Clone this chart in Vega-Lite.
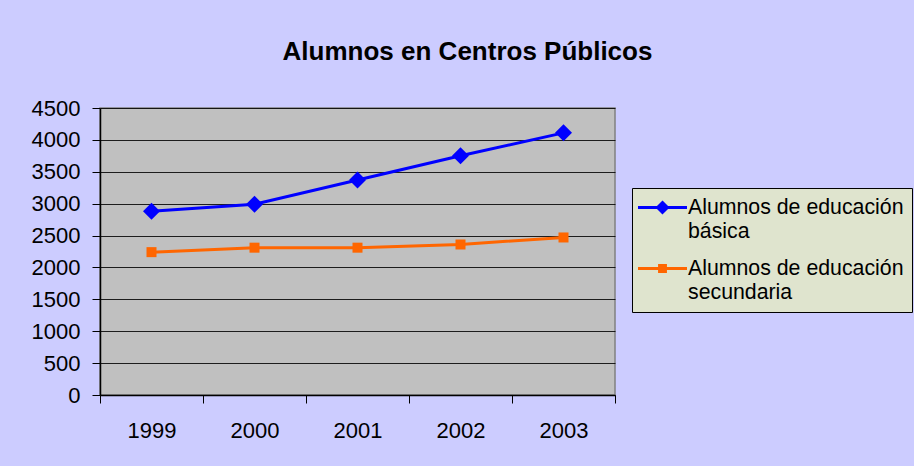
{
  "$schema": "https://vega.github.io/schema/vega-lite/v6.json",
  "autosize": {"type": "none"},
  "padding": {"left": 100, "top": 108, "right": 299, "bottom": 71},
  "width": 515,
  "height": 287,
  "background": "#CCCCFF",
  "title": {
    "text": "Alumnos en Centros Públicos",
    "font": "Liberation Sans",
    "fontSize": 26,
    "fontWeight": "bold",
    "color": "#000000",
    "baseline": "alphabetic",
    "anchor": "middle",
    "offset": 11,
    "dx": 110
  },
  "config": {
    "view": {"fill": "#C0C0C0", "stroke": "#808080", "strokeWidth": 1.5},
    "font": "Liberation Sans"
  },
  "data": {
    "values": [
      {"year": "1999", "serie": "Alumnos de educación básica", "value": 2880},
      {"year": "2000", "serie": "Alumnos de educación básica", "value": 2990},
      {"year": "2001", "serie": "Alumnos de educación básica", "value": 3370},
      {"year": "2002", "serie": "Alumnos de educación básica", "value": 3750},
      {"year": "2003", "serie": "Alumnos de educación básica", "value": 4110},
      {"year": "1999", "serie": "Alumnos de educación secundaria", "value": 2240},
      {"year": "2000", "serie": "Alumnos de educación secundaria", "value": 2310},
      {"year": "2001", "serie": "Alumnos de educación secundaria", "value": 2310},
      {"year": "2002", "serie": "Alumnos de educación secundaria", "value": 2360},
      {"year": "2003", "serie": "Alumnos de educación secundaria", "value": 2470}
    ]
  },
  "encoding": {
    "x": {
      "field": "year",
      "type": "ordinal",
      "scale": {"type": "band", "paddingInner": 0, "paddingOuter": 0},
      "axis": {
        "title": null,
        "labelAngle": 0,
        "labelFont": "Liberation Sans",
        "labelFontSize": 22,
        "labelColor": "#000000",
        "labelPadding": 17,
        "tickBand": "extent",
        "tickSize": 8,
        "tickColor": "#000000",
        "tickWidth": 1,
        "domainColor": "#000000",
        "domainWidth": 1.5,
        "grid": false
      }
    },
    "y": {
      "field": "value",
      "type": "quantitative",
      "scale": {"domain": [0, 4500], "nice": false},
      "axis": {
        "title": null,
        "format": "d",
        "values": [0, 500, 1000, 1500, 2000, 2500, 3000, 3500, 4000, 4500],
        "labelFont": "Liberation Sans",
        "labelFontSize": 22,
        "labelColor": "#000000",
        "labelPadding": 12,
        "tickSize": 8,
        "tickColor": "#000000",
        "tickWidth": 1,
        "domainColor": "#000000",
        "domainWidth": 1.5,
        "grid": true,
        "gridColor": "#000000",
        "gridWidth": 1,
        "gridOpacity": 0.85
      }
    },
    "color": {
      "field": "serie",
      "type": "nominal",
      "scale": {"domain": ["Alumnos de educación básica", "Alumnos de educación secundaria"], "range": ["#0000FF", "#FF6600"]},
      "legend": {
        "title": null,
        "orient": "none",
        "legendX": 532,
        "legendY": 80,
        "fillColor": "#DFE4CE",
        "strokeColor": "#000000",
        "padding": 8,
        "labelFont": "Liberation Sans",
        "labelFontSize": 21.3,
        "labelColor": "#000000",
        "labelLimit": 400,
        "labelOffset": 25,
        "rowPadding": 14,
        "symbolSize": 400,
        "symbolStrokeWidth": 3,
        "labelExpr": "datum.label == 'Alumnos de educación básica' ? ['Alumnos de educación', 'básica'] : ['Alumnos de educación', 'secundaria']",
        "encode": {
          "labels": {"update": {"lineHeight": {"value": 24.5}}},
          "symbols": {
            "update": {
              "shape": {"signal": "datum.value == 'Alumnos de educación básica' ? 'M-1.35,0H3.55M1.1,-0.49L1.59,0L1.1,0.49L0.61,0Z' : 'M-1.35,0H3.55M0.806,-0.294H1.394V0.294H0.806Z'"},
              "stroke": {"signal": "scale('color', datum.value)"},
              "fill": {"signal": "scale('color', datum.value)"},
              "strokeWidth": {"value": 3},
              "size": {"value": 400},
              "opacity": {"value": 1}
            }
          }
        }
      }
    }
  },
  "layer": [
    {"mark": {"type": "line", "strokeWidth": 3}},
    {
      "transform": [{"filter": "datum.serie == 'Alumnos de educación básica'"}],
      "mark": {"type": "point", "filled": true, "opacity": 1, "shape": "diamond", "size": 289}
    },
    {
      "transform": [{"filter": "datum.serie == 'Alumnos de educación secundaria'"}],
      "mark": {"type": "point", "filled": true, "opacity": 1, "shape": "square", "size": 100}
    }
  ]
}
